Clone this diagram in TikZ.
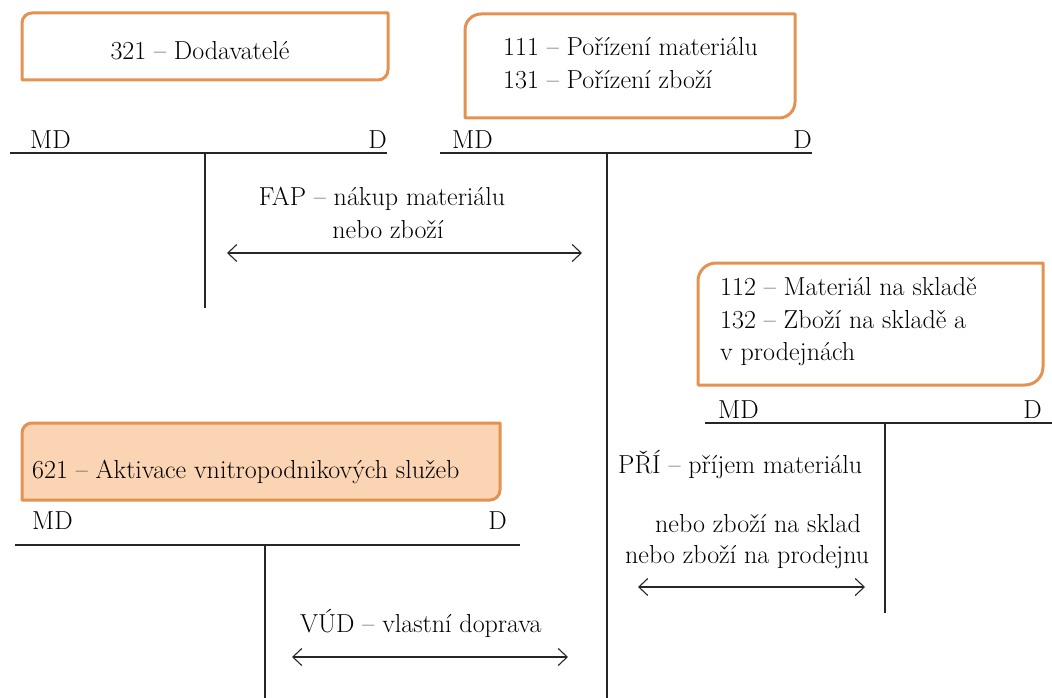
\documentclass[tikz,border=0pt]{standalone}
\usetikzlibrary{arrows.meta}

\definecolor{frameorange}{RGB}{228,146,82}
\definecolor{framefill}{RGB}{251,212,180}

% Title frame: rounded top-left and bottom-right corners, square elsewhere.
% #1 style, #2 left, #3 top, #4 right, #5 bottom (top/bottom measured downwards), #6 radius
\newcommand\tabframe[6]{%
  \draw[#1] (#2,-#5) -- (#2,-#3-#6)
    arc[start angle=180,end angle=90,radius=#6] -- (#4,-#3) -- (#4,-#5+#6)
    arc[start angle=0,end angle=-90,radius=#6] -- cycle;}

\begin{document}
\begin{tikzpicture}[x=1pt,y=1pt,
  txt/.style={font=\fontsize{26}{30}\selectfont, inner sep=0pt},
  ledger/.style={line width=1.3pt, black!85},
  flow/.style={line width=1.1pt, black!85,
    {Straight Barb[length=9pt,width=17pt]}-{Straight Barb[length=9pt,width=17pt]}},
  titlebox/.style={draw=frameorange, line width=3pt, line join=round}]
\useasboundingbox (0,0) rectangle (1052,-698);

% ---- 321 Dodavatele ----
\tabframe{titlebox}{22}{13}{388}{80}{10}
\node[txt, anchor=base] (t321) at (200,-60) {321 – Dodavatelé};
\coordinate (a1l) at (10,-153);
\coordinate (a1r) at (387,-153);
\coordinate (a1top) at (205,-153);
\coordinate (a1bot) at (205,-308);
\draw[ledger] (a1l) -- (a1r);
\draw[ledger] (a1top) -- (a1bot);
\node[txt, anchor=base west] (a1md) at (30,-149) {MD};
\node[txt, anchor=base east] (a1d) at (387,-149) {D};

% ---- 111 / 131 ----
\tabframe{titlebox}{465}{14}{795}{118}{16}
\node[txt, anchor=base west] (t111) at (503,-56) {111 – Pořízení materiálu};
\node[txt, anchor=base west] (t131) at (503,-89) {131 – Pořízení zboží};
\coordinate (a2l) at (440,-153);
\coordinate (a2r) at (812,-153);
\coordinate (a2top) at (607,-153);
\coordinate (a2bot) at (607,-698);
\draw[ledger] (a2l) -- (a2r);
\draw[ledger] (a2top) -- (a2bot);
\node[txt, anchor=base west] (a2md) at (452,-149) {MD};
\node[txt, anchor=base east] (a2d) at (812,-149) {D};

% ---- 112 / 132 ----
\tabframe{titlebox}{698}{263}{1043}{385}{18}
\node[txt, anchor=base west] (t112) at (720,-295) {112 – Materiál na skladě};
\node[txt, anchor=base west] (t132) at (720,-328) {132 – Zboží na skladě a};
\node[txt, anchor=base west] (t132b) at (720,-360) {v prodejnách};
\coordinate (a3l) at (705,-423);
\coordinate (a3r) at (1052,-423);
\coordinate (a3top) at (885,-423);
\coordinate (a3bot) at (885,-613);
\draw[ledger] (a3l) -- (a3r);
\draw[ledger] (a3top) -- (a3bot);
\node[txt, anchor=base west] (a3md) at (718,-418) {MD};
\node[txt, anchor=base east] (a3d) at (1042,-418) {D};

% ---- 621 ----
\tabframe{titlebox, fill=framefill}{22}{423}{500}{500}{10}
\node[txt, anchor=base west] (t621) at (32,-478) {621 – Aktivace vnitropodnikových služeb};
\coordinate (a4l) at (15,-545);
\coordinate (a4r) at (520,-545);
\coordinate (a4top) at (265,-545);
\coordinate (a4bot) at (265,-698);
\draw[ledger] (a4l) -- (a4r);
\draw[ledger] (a4top) -- (a4bot);
\node[txt, anchor=base west] (a4md) at (32,-529) {MD};
\node[txt, anchor=base east] (a4d) at (507,-529) {D};

% ---- postings ----
\node[txt, anchor=base] (fap1) at (382,-205) {FAP – nákup materiálu};
\node[txt, anchor=base] (fap2) at (388,-238) {nebo zboží};
\coordinate (fapL) at (227,-253);
\coordinate (fapR) at (582,-253);
\draw[flow] (fapL) -- (fapR);

\node[txt, anchor=base west] (pri1) at (618,-473) {PŘÍ – příjem materiálu};
\node[txt, anchor=base west] (pri2) at (655,-532) {nebo zboží na sklad};
\node[txt, anchor=base west] (pri3) at (625,-563) {nebo zboží na prodejnu};
\coordinate (priL) at (638,-587);
\coordinate (priR) at (865,-587);
\draw[flow] (priL) -- (priR);

\node[txt, anchor=base west] (vud) at (300,-632) {VÚD – vlastní doprava};
\coordinate (vudL) at (292,-657);
\coordinate (vudR) at (568,-657);
\draw[flow] (vudL) -- (vudR);
\end{tikzpicture}
\end{document}
